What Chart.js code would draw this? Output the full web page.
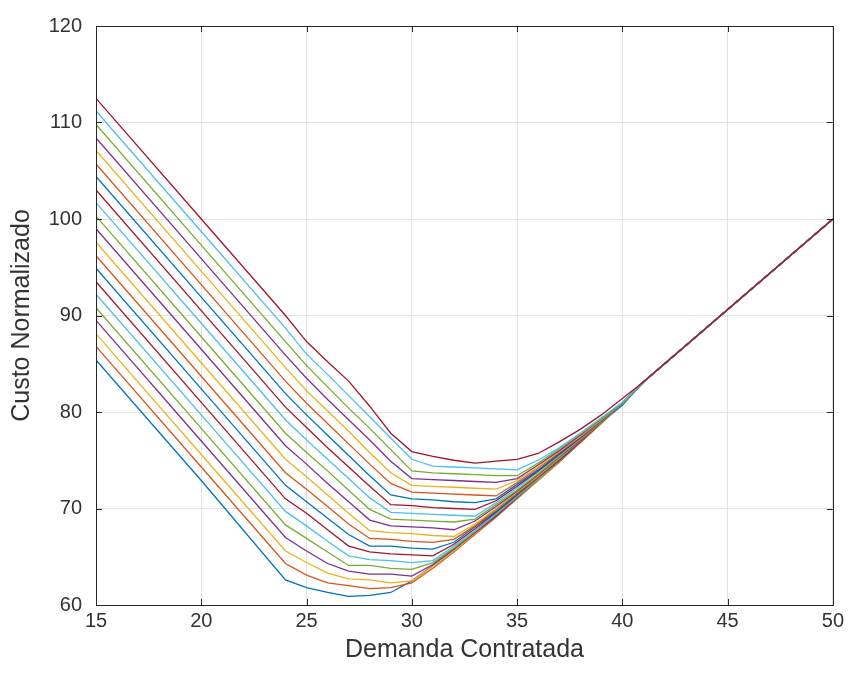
<!DOCTYPE html>
<html>
<head>
<meta charset="utf-8">
<script src="https://cdn.jsdelivr.net/npm/chart.js@4.4.1/dist/chart.umd.min.js"></script>
<style>
  html, body { margin: 0; padding: 0; background: #fff; }
  #wrap { width: 848px; height: 675px; }
</style>
</head>
<body>
<div id="wrap"><canvas id="chart" width="848" height="675"></canvas></div>
<script>
// Demanda contratada (eixo x)
const demanda = [15, 20, 24, 25, 26, 27, 28, 29, 30, 31, 32, 33, 34, 35, 36, 37, 38, 39, 40, 41, 50];

// Custo normalizado, uma curva por cenario (de baixo para cima)
const curva01 = [85.4, 72.9, 62.6, 61.8, 61.3, 60.9, 61.0, 61.3, 62.5, 64.1, 65.7, 67.5, 69.3, 71.1, 73.0, 74.9, 76.9, 78.9, 80.7, 83.1, 100];
const curva02 = [86.8, 74.3, 64.3, 63.1, 62.3, 62.0, 61.7, 61.8, 62.3, 63.8, 65.5, 67.3, 69.1, 71.0, 72.9, 74.8, 76.8, 78.8, 80.9, 83.1, 100];
const curva03 = [88.1, 75.6, 65.6, 64.4, 63.3, 62.7, 62.6, 62.3, 62.5, 64.0, 65.6, 67.4, 69.2, 71.0, 72.9, 74.9, 76.8, 78.8, 80.9, 83.1, 100];
const curva04 = [89.5, 77.0, 67.0, 65.6, 64.3, 63.5, 63.2, 63.2, 63.0, 64.2, 65.8, 67.5, 69.2, 71.1, 73.0, 74.9, 76.9, 78.9, 80.9, 83.1, 100];
const curva05 = [90.8, 78.3, 68.3, 66.9, 65.5, 64.1, 64.1, 63.8, 63.7, 64.4, 65.9, 67.6, 69.4, 71.2, 73.0, 74.9, 76.9, 78.9, 80.9, 83.1, 100];
const curva06 = [92.2, 79.7, 69.7, 68.2, 66.6, 65.1, 64.7, 64.6, 64.4, 64.6, 66.1, 67.7, 69.5, 71.3, 73.1, 75.0, 76.9, 78.9, 80.9, 83.1, 100];
const curva07 = [93.5, 81.0, 71.0, 69.5, 67.8, 66.1, 65.5, 65.3, 65.2, 65.1, 66.3, 67.9, 69.6, 71.4, 73.2, 75.0, 76.9, 78.9, 80.9, 83.1, 100];
const curva08 = [94.9, 82.4, 72.4, 70.7, 69.0, 67.3, 66.1, 66.1, 65.9, 65.8, 66.5, 68.1, 69.7, 71.5, 73.3, 75.1, 77.0, 78.9, 80.9, 83.1, 100];
const curva09 = [96.2, 83.7, 73.7, 72.0, 70.2, 68.4, 66.9, 66.8, 66.6, 66.5, 66.8, 68.2, 69.9, 71.6, 73.3, 75.2, 77.0, 78.9, 80.9, 83.1, 100];
const curva10 = [97.6, 85.1, 75.1, 73.3, 71.4, 69.5, 67.7, 67.5, 67.4, 67.2, 67.1, 68.4, 70.0, 71.7, 73.4, 75.2, 77.1, 79.0, 80.9, 83.1, 100];
const curva11 = [99.0, 86.5, 76.5, 74.6, 72.6, 70.7, 68.8, 68.2, 68.1, 68.0, 67.8, 68.7, 70.2, 71.8, 73.5, 75.3, 77.1, 79.0, 80.9, 83.1, 100];
const curva12 = [100.3, 87.8, 77.8, 75.8, 73.9, 71.9, 69.9, 68.9, 68.8, 68.7, 68.6, 68.9, 70.4, 71.9, 73.6, 75.4, 77.2, 79.0, 80.9, 83.1, 100];
const curva13 = [101.7, 89.2, 79.2, 77.1, 75.1, 73.1, 71.1, 69.6, 69.5, 69.4, 69.3, 69.2, 70.6, 72.1, 73.8, 75.5, 77.2, 79.1, 80.9, 83.1, 100];
const curva14 = [103.0, 90.5, 80.5, 78.4, 76.3, 74.3, 72.3, 70.4, 70.3, 70.1, 70.0, 69.9, 70.8, 72.3, 73.9, 75.6, 77.3, 79.1, 80.9, 83.1, 100];
const curva15 = [104.4, 91.9, 81.9, 79.7, 77.6, 75.5, 73.4, 71.4, 71.0, 70.9, 70.7, 70.6, 71.0, 72.5, 74.0, 75.7, 77.4, 79.1, 80.9, 83.1, 100];
const curva16 = [105.7, 93.2, 83.2, 80.9, 78.8, 76.7, 74.6, 72.6, 71.7, 71.6, 71.5, 71.4, 71.3, 72.7, 74.2, 75.8, 77.4, 79.2, 80.9, 83.1, 100];
const curva17 = [107.1, 94.6, 84.6, 82.2, 80.1, 78.0, 75.8, 73.7, 72.4, 72.3, 72.2, 72.1, 72.0, 72.9, 74.3, 75.9, 77.5, 79.2, 80.9, 83.1, 100];
const curva18 = [108.4, 95.9, 85.9, 83.5, 81.3, 79.2, 77.1, 74.9, 73.1, 73.0, 72.9, 72.8, 72.7, 73.1, 74.5, 76.0, 77.6, 79.3, 80.9, 83.1, 100];
const curva19 = [109.8, 97.3, 87.3, 84.8, 82.6, 80.4, 78.3, 76.1, 73.9, 73.7, 73.6, 73.5, 73.4, 73.4, 74.7, 76.2, 77.7, 79.3, 80.9, 83.1, 100];
const curva20 = [111.2, 98.7, 88.7, 86.0, 83.9, 81.7, 79.5, 77.3, 75.1, 74.4, 74.3, 74.2, 74.1, 74.0, 75.0, 76.3, 77.8, 79.4, 81.0, 83.1, 100];
const curva21 = [112.5, 100.0, 90.0, 87.3, 85.2, 83.2, 80.6, 77.8, 75.9, 75.4, 75.0, 74.7, 74.9, 75.1, 75.7, 76.9, 78.2, 79.7, 81.4, 83.1, 100];

const curvas = [curva01, curva02, curva03, curva04, curva05, curva06, curva07, curva08, curva09, curva10, curva11,
  curva12, curva13, curva14, curva15, curva16, curva17, curva18, curva19, curva20, curva21];

// cores padrao do MATLAB
const cores = ['#0072BD', '#D95319', '#EDB120', '#7E2F8E', '#77AC30', '#4DBEEE', '#A2142F'];

const fonte = "'Liberation Sans', Arial, Helvetica, sans-serif";
const corTexto = '#333333';

const datasets = curvas.map((ys, i) => ({
  label: 'Curva ' + (i + 1),
  data: ys.map((y, k) => ({ x: demanda[k], y: y })),
  borderColor: cores[i % cores.length],
  borderWidth: 1.3,
  pointRadius: 0,
  fill: false,
  tension: 0,
  order: curvas.length - i // ultima curva por cima, como no MATLAB
}));

// caixa em volta do grafico + marcas de escala para dentro
const caixa = {
  id: 'caixa',
  afterDraw(chart) {
    const { ctx, chartArea: a, scales } = chart;
    ctx.save();
    ctx.strokeStyle = '#262626';
    ctx.lineWidth = 1;
    const tl = 6;
    ctx.beginPath();
    scales.x.ticks.forEach(t => {
      const px = Math.round(scales.x.getPixelForValue(t.value)) + 0.5;
      ctx.moveTo(px, a.bottom); ctx.lineTo(px, a.bottom - tl);
      ctx.moveTo(px, a.top); ctx.lineTo(px, a.top + tl);
    });
    scales.y.ticks.forEach(t => {
      const py = Math.round(scales.y.getPixelForValue(t.value)) + 0.5;
      ctx.moveTo(a.left, py); ctx.lineTo(a.left + tl, py);
      ctx.moveTo(a.right, py); ctx.lineTo(a.right - tl, py);
    });
    ctx.stroke();
    ctx.strokeRect(Math.round(a.left) + 0.5, Math.round(a.top) + 0.5,
      Math.round(a.right - a.left), Math.round(a.bottom - a.top));
    ctx.restore();
  }
};

const config = {
  type: 'line',
  data: { datasets: datasets },
  options: {
    responsive: false,
    animation: false,
    layout: { padding: { top: 22, right: 14, left: 0, bottom: 0 } },
    plugins: {
      legend: { display: false },
      tooltip: { enabled: false },
      title: { display: false }
    },
    scales: {
      x: {
        type: 'linear',
        min: 15,
        max: 50,
        afterFit: s => { s.height = 70; },
        ticks: { stepSize: 5, color: corTexto, padding: 4, font: { family: fonte, size: 20 } },
        grid: { color: '#e3e3e3', drawTicks: false },
        border: { display: false },
        title: { display: true, text: 'Demanda Contratada', color: corTexto,
          font: { family: fonte, size: 25 }, padding: { top: 0, bottom: 10 } }
      },
      y: {
        min: 60,
        max: 120,
        afterFit: s => { s.width = 96; },
        ticks: { stepSize: 10, color: corTexto, padding: 14, font: { family: fonte, size: 20 } },
        grid: { color: '#e3e3e3', drawTicks: false },
        border: { display: false },
        title: { display: true, text: 'Custo Normalizado', color: corTexto,
          font: { family: fonte, size: 25 }, padding: { top: 7, bottom: 0 } }
      }
    }
  },
  plugins: [caixa]
};

const ctx = document.getElementById('chart').getContext('2d');
const chart = new Chart(ctx, config);
</script>
</body>
</html>
